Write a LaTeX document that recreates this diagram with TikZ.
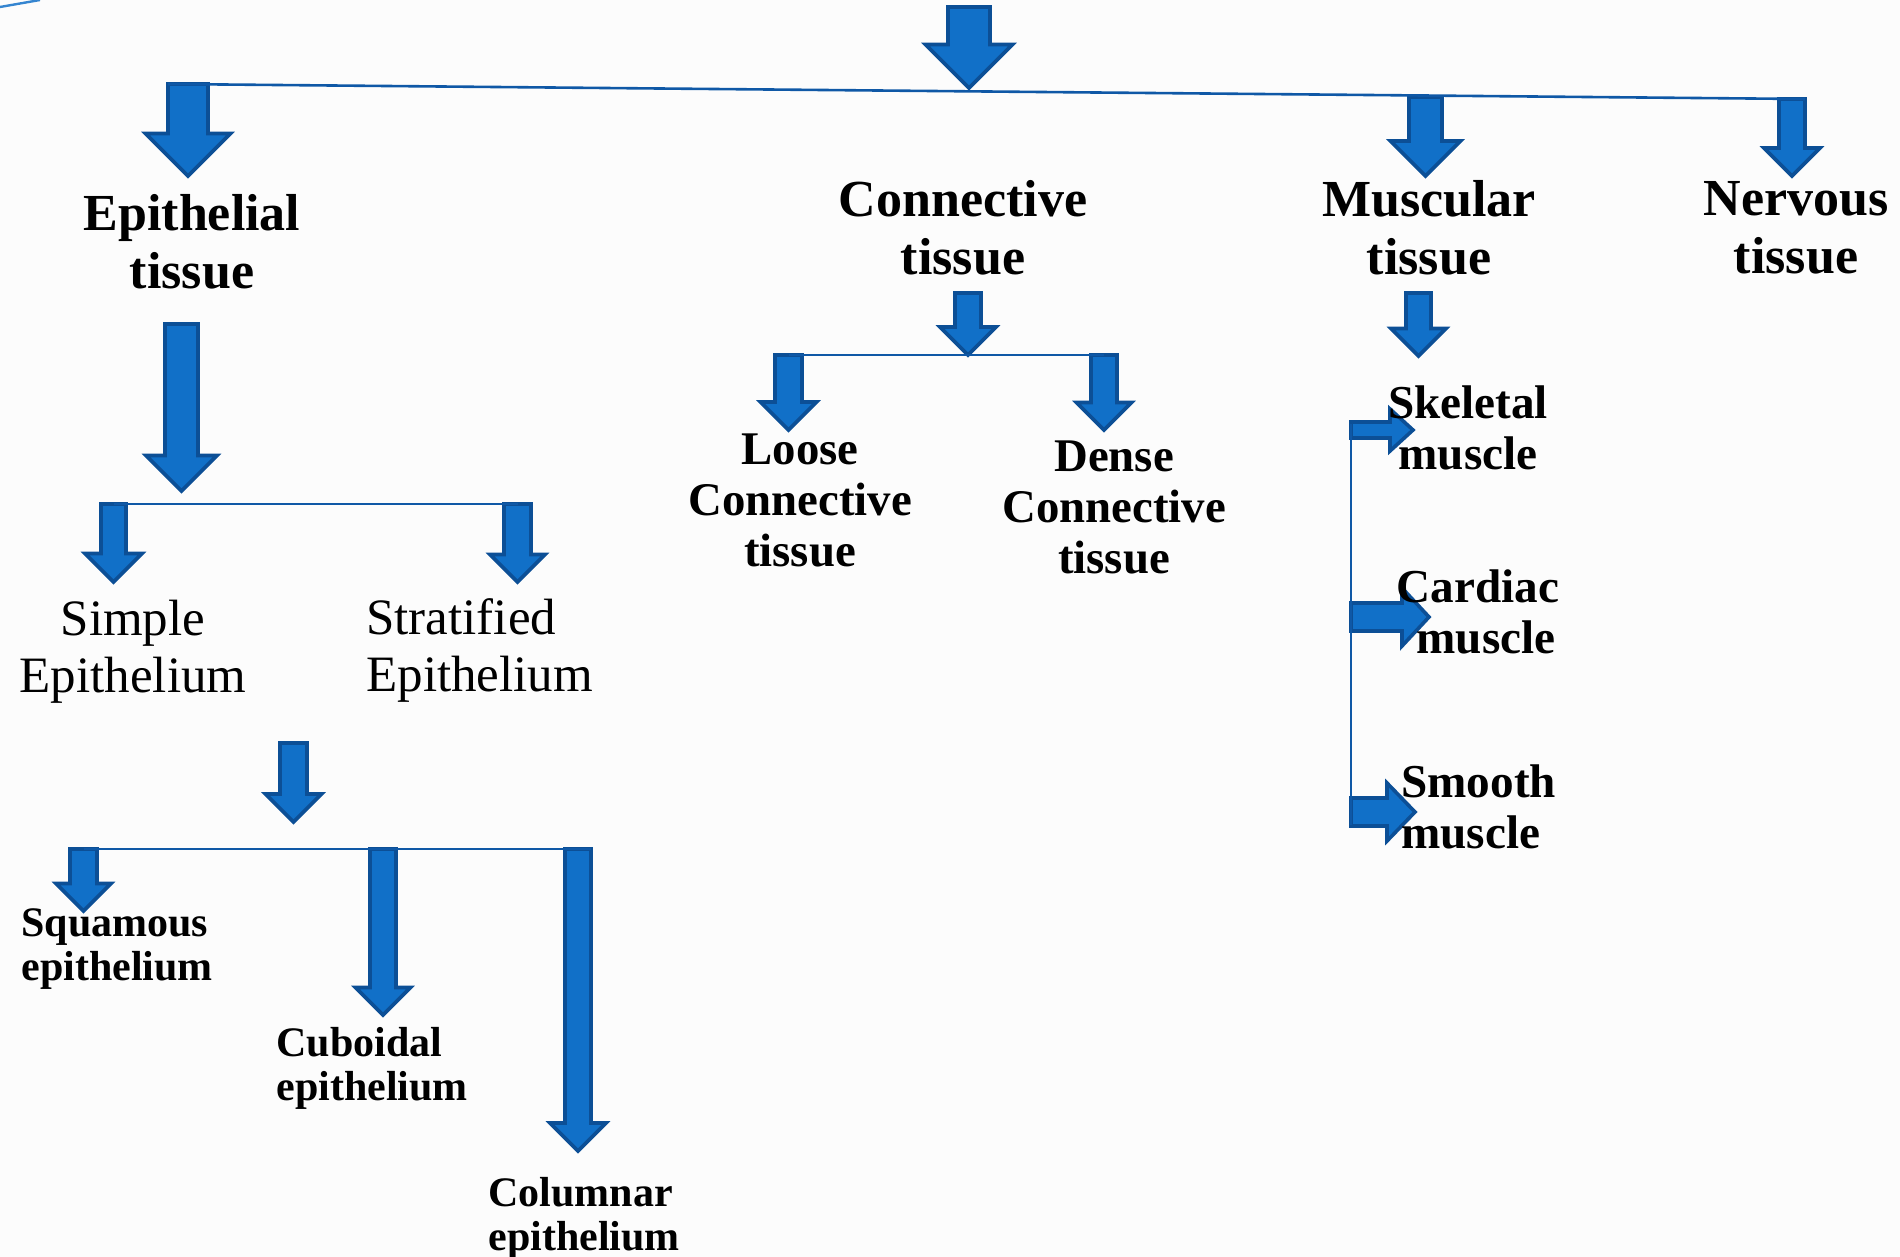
\documentclass[tikz,border=0pt]{standalone}
\usepackage{fontspec}
\setmainfont{Liberation Serif}
\definecolor{arrowfill}{HTML}{1170C8}
\definecolor{arrowedge}{HTML}{0C4F96}
\definecolor{lineblue}{HTML}{0F58A6}
\definecolor{bgcol}{HTML}{FCFCFC}
\tikzset{
  blockarrow/.style={fill=arrowfill, draw=arrowedge, line width=1.8pt, line join=miter},
  conn/.style={draw=lineblue, line width=1.3pt},
  lvlone/.style={font=\fontsize{26}{29}\selectfont\bfseries, align=center, inner sep=0pt},
  lvltwo/.style={font=\fontsize{23.4}{25.5}\selectfont\bfseries, align=center, inner sep=0pt},
  muscfont/.style={font=\fontsize{23.6}{25.5}\selectfont\bfseries, align=center, inner sep=0pt},
  regfont/.style={font=\fontsize{25.5}{28.5}\selectfont, align=center, inner sep=0pt},
  smallfont/.style={font=\fontsize{21}{22}\selectfont\bfseries, align=left, inner sep=0pt, anchor=west},
}
% name, cx, half shaft, half head, top, tip
\newcommand{\blockdown}[6]{%
  \coordinate (#1) at (#2,#5);
  \draw[blockarrow] ({#2-#3},#5) -- ({#2+#3},#5) -- ({#2+#3},{#6-#4}) -- ({#2+#4},{#6-#4}) -- (#2,#6) -- ({#2-#4},{#6-#4}) -- ({#2-#3},{#6-#4}) -- cycle;}
% name, cy, left, half shaft, head start, half head, tip
\newcommand{\blockright}[7]{%
  \coordinate (#1) at (#3,#2);
  \draw[blockarrow] (#3,{#2-#4}) -- (#5,{#2-#4}) -- (#5,{#2-#6}) -- (#7,#2) -- (#5,{#2+#6}) -- (#5,{#2+#4}) -- (#3,{#2+#4}) -- cycle;}
\begin{document}
\begin{tikzpicture}[x=0.5pt,y=-0.5pt]
\fill[bgcol] (0,0) rectangle (1900,1257);
\useasboundingbox (0,0) rectangle (1900,1257);
% decoration at top-left corner
\coordinate (decoA) at (0,7);
\coordinate (decoB) at (40,0);
\draw[draw=arrowfill!85, line width=1.2pt] (decoA) -- (decoB);
% arrows
\blockdown{topA}{969}{21}{43.5}{7}{88}
\blockdown{epiA}{188}{20}{42.5}{84}{176}
\blockdown{muscA}{1425.5}{16.5}{35}{97}{176}
\blockdown{nervA}{1792}{13}{28}{99}{176}
\blockdown{epiB}{181.5}{16.5}{35.5}{324}{491}
\blockdown{simpA}{113.5}{12.5}{28.5}{504}{582}
\blockdown{stratA}{517.5}{13.5}{27.5}{504}{582}
\blockdown{epiC}{293.5}{13.5}{28}{743}{822}
\blockdown{squamA}{83.5}{13.5}{27.5}{849}{911}
\blockdown{cubA}{383}{13}{27.5}{849}{1015}
\blockdown{colA}{578}{13}{28}{849}{1151}
\blockdown{connA}{968}{13}{28}{293}{355}
\blockdown{looseA}{788.5}{13.5}{28}{355}{430}
\blockdown{denseA}{1104}{13}{27.5}{355}{430}
\blockdown{muscB}{1418.5}{12.5}{27.5}{293}{356}
\blockright{skelA}{430}{1351}{8}{1390}{21}{1413}
\blockright{cardA}{617}{1351}{14}{1402}{29}{1429}
\blockright{smoothA}{812}{1351}{14}{1387}{29}{1415}
% connector lines
\coordinate (mainL) at (168,84);
\coordinate (mainR) at (1805,99);
\draw[conn] (mainL) -- (mainR);
\draw[conn] (simpA) -- (stratA);
\coordinate (colR) at (591,849);
\draw[conn] (squamA) -- (colR);
\draw[conn] (looseA) -- (denseA);
\coordinate (mTop) at (1351,424);
\coordinate (mBot) at (1351,825);
\draw[conn] (mTop) -- (mBot);
% labels
\node[lvlone] (epi) at (192,242) {Epithelial\\tissue};
\node[lvlone] (conn) at (963,228) {Connective\\tissue};
\node[lvlone] (musc) at (1429,228) {Muscular\\tissue};
\node[lvlone] (nerv) at (1796,228) {Nervous\\tissue};
\node[lvltwo] (loose) at (800,500) {Loose\\Connective\\tissue};
\node[lvltwo] (dense) at (1114,507) {Dense\\Connective\\tissue};
\node[regfont] (simple) at (133,652) {Simple\\Epithelium};
\node[regfont, anchor=west, align=left] (strat) at (366,650) {Stratified\\Epithelium};
\node[muscfont] (skel) at (1468,428) {Skeletal\\muscle};
\node[muscfont] (card) at (1478,612) {Cardiac\\\hspace*{8pt}muscle};
\node[muscfont, anchor=west, align=left] (smooth) at (1401,807) {Smooth\\muscle};
\node[smallfont] (squam) at (21,949) {Squamous\\epithelium};
\node[smallfont] (cub) at (276,1068) {Cuboidal\\epithelium};
\node[smallfont] (col) at (488,1218) {Columnar\\epithelium};
\end{tikzpicture}
\end{document}
